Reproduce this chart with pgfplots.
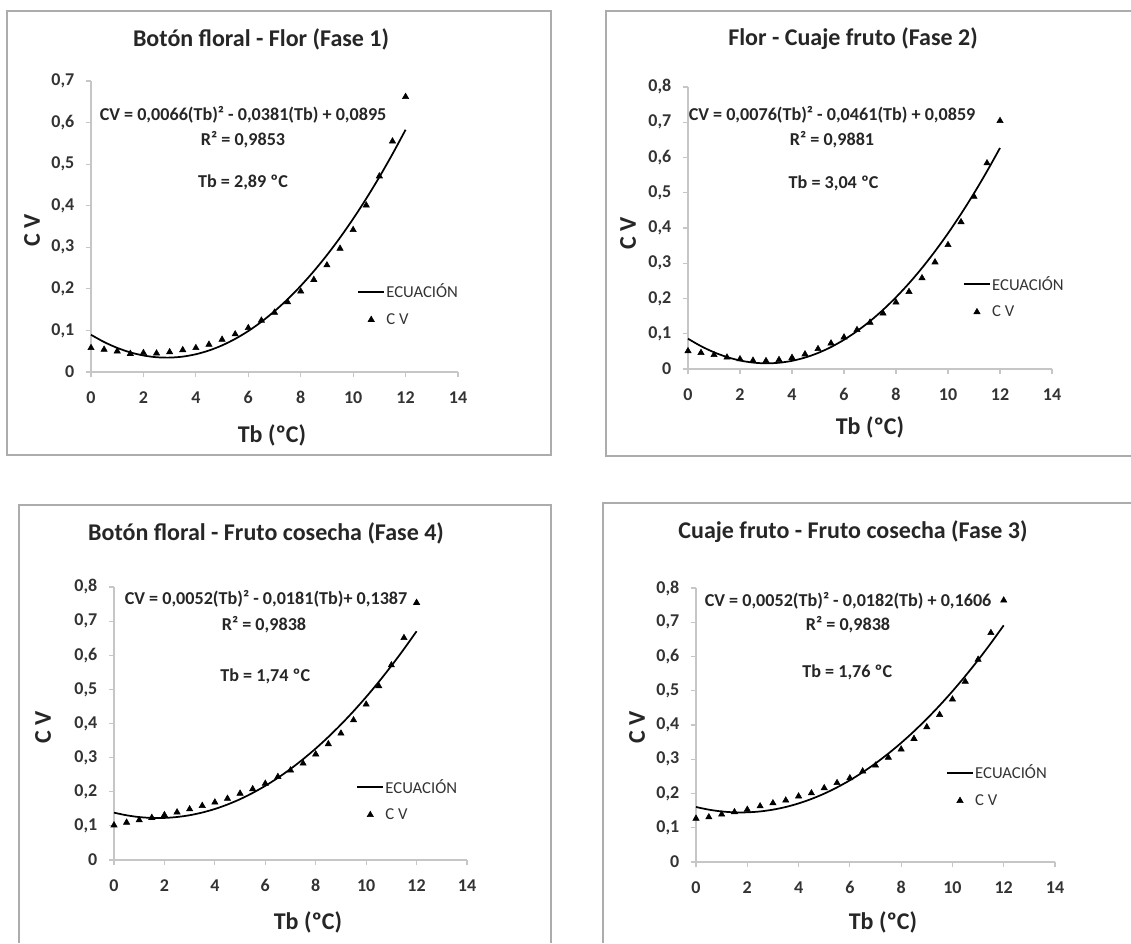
\documentclass[border=0pt]{standalone}
\usepackage{fontspec}
\setmainfont{Carlito}
\usepackage{pgfplots}
\pgfplotsset{compat=1.18}

\pgfplotsset{
  panel/.style={
    scale only axis, anchor=south west,
    xmin=0, xmax=14, ymin=0,
    xtick={0,2,4,6,8,10,12,14},
    axis x line*=bottom, axis y line*=left,
    axis line style={gray!45, line width=0.9pt},
    tick style={gray!45, line width=0.9pt},
    tick align=outside, major tick length=4pt,
    ticklabel style={font=\fontsize{13.5}{15}\selectfont\bfseries, text=black!80},
    xticklabel style={yshift=-7pt},
    yticklabel style={xshift=-5pt},
    /pgf/number format/use comma,
    /pgf/number format/fixed,
    /pgf/number format/precision=1,
    /pgf/number format/assume math mode=true,
    clip=false,
    legend style={draw=none, fill=none, anchor=west, inner sep=0pt,
      font=\fontsize{12.5}{13}\selectfont, text=black!80, row sep=8pt,
      nodes={inner sep=1pt}},
    legend cell align=left,
    legend image code/.code={\draw[mark repeat=2,mark phase=2,##1]
      plot coordinates {(0pt,0pt) (9.75pt,0pt) (19.5pt,0pt)};},
  },
  fit/.style={black, line width=1.3pt, smooth, no marks},
  obs/.style={only marks, mark=triangle*, mark size=2.7pt, black},
}
\tikzset{
  note/.style={font=\fontsize{13.6}{15}\selectfont\bfseries, text=black!85},
  ttl/.style={font=\fontsize{18}{20}\selectfont\bfseries, text=black!85},
}

\begin{document}
\begin{tikzpicture}[x=0.75pt, y=0.75pt]
\useasboundingbox (0,0) rectangle (1131,943);

% frames of the four charts
\draw[gray!65, line width=1.1pt] (7,488) rectangle (551,932);
\draw[gray!65, line width=1.1pt] (1131,932) -- (606,932) -- (606,487) -- (1131,487);
\draw[gray!65, line width=1.1pt] (19,0) -- (19,438) -- (551,438) -- (551,0);
\draw[gray!65, line width=1.1pt] (603,0) -- (603,440) -- (1131,440);

% Fase 1
\begin{axis}[panel, at={(68.25pt,428.25pt)}, width=275.25pt, height=218.25pt,
  ymax=0.7, ytick={0,0.1,0.2,0.3,0.4,0.5,0.6,0.7},
  legend style={at={(0.725,0.23)}}]
\addplot[fit] coordinates {
(0,0.0895) (0.5,0.0721) (1,0.0580) (1.5,0.0472) (2,0.0397) (2.5,0.0355)
(3,0.0346) (3.5,0.0370) (4,0.0427) (4.5,0.0517) (5,0.0640) (5.5,0.0796)
(6,0.0985) (6.5,0.1207) (7,0.1462) (7.5,0.1750) (8,0.2071) (8.5,0.2425)
(9,0.2812) (9.5,0.3232) (10,0.3685) (10.5,0.4171) (11,0.4690) (11.5,0.5242)
(12,0.5827)};
\addlegendentry{ECUACIÓN}
\addplot[obs] coordinates {
(0,0.058) (0.5,0.054) (1,0.050) (1.5,0.044) (2,0.046) (2.5,0.045)
(3,0.048) (3.5,0.053) (4,0.058) (4.5,0.066) (5,0.078) (5.5,0.091)
(6,0.106) (6.5,0.124) (7,0.143) (7.5,0.168) (8,0.194) (8.5,0.222)
(9,0.257) (9.5,0.297) (10,0.342) (10.5,0.401) (11,0.471) (11.5,0.555)
(12,0.662)};
\addlegendentry{C V}
\node[note] at (axis cs:5.8,0.618) {CV = 0,0066(Tb)² - 0,0381(Tb) + 0,0895};
\node[note] at (axis cs:5.8,0.560) {R² = 0,9853};
\node[note] at (axis cs:5.8,0.457) {Tb = 2,89 ºC};
\end{axis}

% Fase 2
\begin{axis}[panel, at={(516pt,430.5pt)}, width=273pt, height=211.5pt,
  ymax=0.8, ytick={0,0.1,0.2,0.3,0.4,0.5,0.6,0.7,0.8},
  legend style={at={(0.755,0.254)}}]
\addplot[fit] coordinates {
(0,0.0859) (0.5,0.0648) (1,0.0474) (1.5,0.0339) (2,0.0241) (2.5,0.0182)
(3,0.0160) (3.5,0.0177) (4,0.0231) (4.5,0.0324) (5,0.0454) (5.5,0.0622)
(6,0.0829) (6.5,0.1074) (7,0.1356) (7.5,0.1677) (8,0.2035) (8.5,0.2431)
(9,0.2866) (9.5,0.3339) (10,0.3849) (10.5,0.4398) (11,0.4984) (11.5,0.5609)
(12,0.6271)};
\addlegendentry{ECUACIÓN}
\addplot[obs] coordinates {
(0,0.051) (0.5,0.046) (1,0.040) (1.5,0.033) (2,0.028) (2.5,0.024)
(3,0.023) (3.5,0.026) (4,0.032) (4.5,0.042) (5,0.057) (5.5,0.073)
(6,0.090) (6.5,0.111) (7,0.132) (7.5,0.158) (8,0.189) (8.5,0.219)
(9,0.258) (9.5,0.303) (10,0.352) (10.5,0.417) (11,0.489) (11.5,0.584)
(12,0.704)};
\addlegendentry{C V}
\node[note] at (axis cs:5.54,0.721) {CV = 0,0076(Tb)² - 0,0461(Tb) + 0,0859};
\node[note] at (axis cs:5.54,0.650) {R² = 0,9881};
\node[note] at (axis cs:5.6,0.527) {Tb = 3,04 ºC};
\end{axis}

% Fase 4
\begin{axis}[panel, at={(85.5pt,62.25pt)}, width=264.75pt, height=204.75pt,
  ymax=0.8, ytick={0,0.1,0.2,0.3,0.4,0.5,0.6,0.7,0.8},
  legend style={at={(0.686,0.219)}}]
\addplot[fit] coordinates {
(0,0.1387) (0.5,0.1310) (1,0.1258) (1.5,0.1233) (2,0.1233) (2.5,0.1260)
(3,0.1312) (3.5,0.1391) (4,0.1495) (4.5,0.1626) (5,0.1782) (5.5,0.1965)
(6,0.2173) (6.5,0.2408) (7,0.2668) (7.5,0.2955) (8,0.3267) (8.5,0.3606)
(9,0.3970) (9.5,0.4361) (10,0.4777) (10.5,0.5220) (11,0.5688) (11.5,0.6183)
(12,0.6703)};
\addlegendentry{ECUACIÓN}
\addplot[obs] coordinates {
(0,0.102) (0.5,0.110) (1,0.117) (1.5,0.124) (2,0.132) (2.5,0.140)
(3,0.149) (3.5,0.159) (4,0.169) (4.5,0.180) (5,0.195) (5.5,0.208)
(6,0.224) (6.5,0.244) (7,0.263) (7.5,0.283) (8,0.310) (8.5,0.340)
(9,0.371) (9.5,0.410) (10,0.456) (10.5,0.510) (11,0.571) (11.5,0.651)
(12,0.754)};
\addlegendentry{C V}
\node[note] at (axis cs:6.03,0.766) {CV = 0,0052(Tb)² - 0,0181(Tb)+ 0,1387};
\node[note] at (axis cs:5.95,0.691) {R² = 0,9838};
\node[note] at (axis cs:6.0,0.539) {Tb = 1,74 ºC};
\end{axis}

% Fase 3
\begin{axis}[panel, at={(522pt,60.75pt)}, width=269.25pt, height=205.5pt,
  ymax=0.8, ytick={0,0.1,0.2,0.3,0.4,0.5,0.6,0.7,0.8},
  legend style={at={(0.696,0.277)}}]
\addplot[fit] coordinates {
(0,0.1606) (0.5,0.1528) (1,0.1476) (1.5,0.1450) (2,0.1450) (2.5,0.1476)
(3,0.1528) (3.5,0.1606) (4,0.1710) (4.5,0.1840) (5,0.1996) (5.5,0.2178)
(6,0.2386) (6.5,0.2620) (7,0.2880) (7.5,0.3166) (8,0.3478) (8.5,0.3816)
(9,0.4180) (9.5,0.4570) (10,0.4986) (10.5,0.5428) (11,0.5896) (11.5,0.6390)
(12,0.6910)};
\addlegendentry{ECUACIÓN}
\addplot[obs] coordinates {
(0,0.127) (0.5,0.131) (1,0.139) (1.5,0.146) (2,0.153) (2.5,0.163)
(3,0.172) (3.5,0.180) (4,0.192) (4.5,0.201) (5,0.216) (5.5,0.231)
(6,0.245) (6.5,0.265) (7,0.282) (7.5,0.305) (8,0.329) (8.5,0.360)
(9,0.394) (9.5,0.430) (10,0.475) (10.5,0.527) (11,0.591) (11.5,0.669)
(12,0.764)};
\addlegendentry{C V}
\node[note] at (axis cs:5.93,0.764) {CV = 0,0052(Tb)² - 0,0182(Tb) + 0,1606};
\node[note] at (axis cs:5.93,0.693) {R² = 0,9838};
\node[note] at (axis cs:5.9,0.553) {Tb = 1,76 ºC};
\end{axis}

% titles and axis labels
\node[ttl] at (261,904) {Botón floral - Flor (Fase 1)};
\node[ttl] at (853,904) {Flor - Cuaje fruto (Fase 2)};
\node[ttl] at (266,410) {Botón floral - Fruto cosecha (Fase 4)};
\node[ttl] at (853,411) {Cuaje fruto - Fruto cosecha (Fase 3)};
\node[ttl] at (272,508) {Tb (ºC)};
\node[ttl] at (870,516) {Tb (ºC)};
\node[ttl] at (308,21) {Tb (ºC)};
\node[ttl] at (883,21) {Tb (ºC)};
\node[ttl, rotate=90] at (32,713) {C V};
\node[ttl, rotate=90] at (628,710) {C V};
\node[ttl, rotate=90] at (43,216) {C V};
\node[ttl, rotate=90] at (637,216) {C V};
\end{tikzpicture}
\end{document}
